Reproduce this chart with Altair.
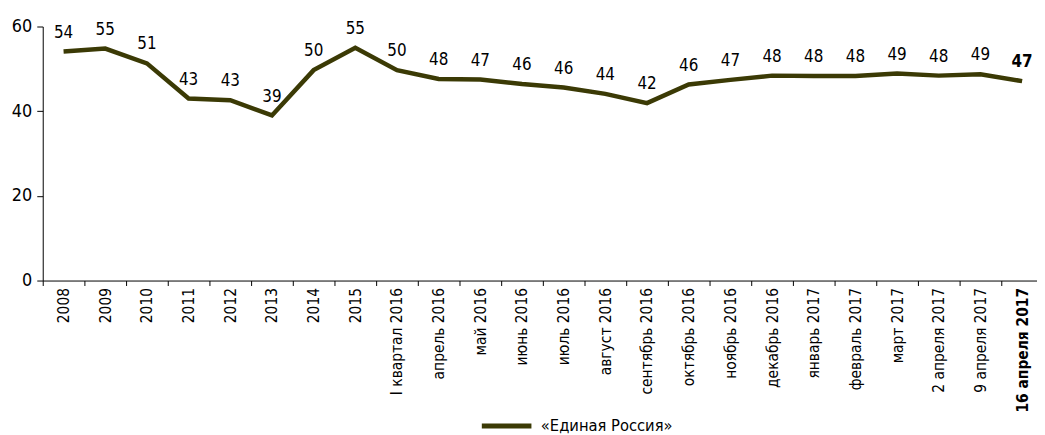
import altair as alt
import pandas as pd

categories = ["2008", "2009", "2010", "2011", "2012", "2013", "2014", "2015",
              "I квартал 2016", "апрель 2016", "май 2016", "июнь 2016", "июль 2016",
              "август 2016", "сентябрь 2016", "октябрь 2016", "ноябрь 2016",
              "декабрь 2016", "январь 2017", "февраль 2017", "март 2017",
              "2 апреля 2017", "9 апреля 2017", "16 апреля 2017"]
values = [54.1, 54.8, 51.3, 43.0, 42.6, 39.0, 49.7, 55.0, 49.7, 47.6, 47.5, 46.4,
          45.6, 44.1, 41.9, 46.3, 47.4, 48.4, 48.3, 48.3, 48.9, 48.4, 48.7, 47.1]
labels = [54, 55, 51, 43, 43, 39, 50, 55, 50, 48, 47, 46, 46, 44, 42, 46, 47, 48,
          48, 48, 49, 48, 49, 47]
series = "«Единая Россия»"
last = "16 апреля 2017"

df = pd.DataFrame({"cat": categories, "val": values, "lab": labels,
                   "series": [series] * len(categories)})

FONT = "DejaVu Sans Condensed"
NARROW = "Liberation Sans Narrow, DejaVu Sans Condensed"
COLOR = "#3b3a05"

x = alt.X("cat:N", sort=categories, title=None,
          scale=alt.Scale(type="band", paddingInner=0, paddingOuter=0, range=[0, 1008]),
          axis=alt.Axis(labelAngle=-90, labelFontSize=15.5, labelFont=NARROW,
                        labelColor="black", tickBand="extent", tickColor="black",
                        domainColor="black", tickSize=5, labelPadding=2,
                        labelFontWeight=alt.condition(alt.datum.value == last,
                                                      alt.value("bold"),
                                                      alt.value("normal"))))
y = alt.Y("val:Q", title=None,
          scale=alt.Scale(domain=[0, 60], nice=False),
          axis=alt.Axis(values=[0, 20, 40, 60], grid=False, labelFontSize=18,
                        labelFont=FONT, labelColor="black", tickColor="black",
                        domainColor="black", tickSize=6, labelPadding=5))

base = alt.Chart(df)

line = base.mark_line(strokeWidth=4.5).encode(
    x=x, y=y,
    color=alt.Color("series:N", title=None,
                    scale=alt.Scale(domain=[series], range=[COLOR]),
                    legend=alt.Legend(orient="none", legendX=440, legendY=375,
                                      symbolType="stroke",
                                      symbolStrokeWidth=5, symbolSize=2500,
                                      labelFontSize=16.5, labelFont=NARROW,
                                      labelColor="black", labelOffset=7)))

text_normal = base.mark_text(dy=-19, fontSize=17, font=FONT, color="black").encode(
    x=alt.X("cat:N", sort=categories), y="val:Q", text="lab:Q"
).transform_filter(alt.datum.cat != last)

text_bold = base.mark_text(dy=-19, fontSize=17, font=FONT, color="black",
                           fontWeight="bold").encode(
    x=alt.X("cat:N", sort=categories), y="val:Q", text="lab:Q"
).transform_filter(alt.datum.cat == last)

chart = (line + text_normal + text_bold).properties(
    width=1002, height=256,
    autosize=alt.AutoSizeParams(type="none"),
    padding={"left": 35, "top": 17, "right": 0, "bottom": 153},
).configure_view(stroke=None)

chart.save("out.html", embed_options={"renderer": "svg", "actions": False})
